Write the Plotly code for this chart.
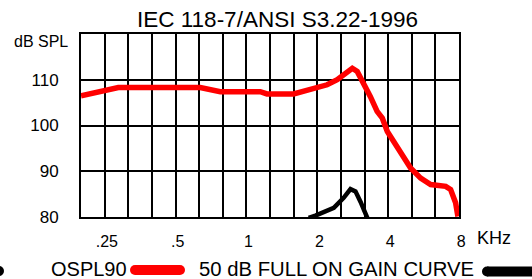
import math
import plotly.graph_objects as go

# ---------------- data ----------------
ospl_freq_khz = [0.2, 0.241, 0.288, 0.642, 0.708, 0.781, 1.155, 1.233, 1.60, 1.886,
                 2.22, 2.45, 2.70, 2.84, 2.98, 3.18, 3.39, 3.62, 3.81, 4.00,
                 4.48, 5.02, 5.54, 6.11, 7.08, 7.43, 7.80, 7.98]
ospl_db = [106.5, 107.4, 108.3, 108.3, 108.0, 107.4, 107.4, 106.9, 106.9, 107.8,
           108.9, 110.0, 111.8, 112.5, 111.8, 109.3, 106.3, 103.1, 101.6, 98.7,
           94.7, 90.7, 88.5, 87.1, 86.7, 86.0, 83.1, 80.1]

gain_freq_khz = [1.854, 1.98, 2.37, 2.61, 2.79, 2.93, 3.08, 3.29]
gain_db = [79.8, 80.3, 82.0, 84.2, 86.1, 85.6, 83.3, 79.8]

x_tick_vals = [0.25, 0.5, 1, 2, 4, 8]
x_tick_text = [".25", ".5", "1", "2", "4", "8"]
y_tick_vals = [80, 90, 100, 110, 120]
y_tick_text = ["80", "90", "100", "110", ""]

title_text = "IEC 118-7/ANSI S3.22-1996"
y_unit = "dB SPL"
x_unit = "KHz"
legend_names = ["OSPL90", "50 dB FULL ON GAIN CURVE"]

# 1/3-octave grid from 200 Hz
f_start = 0.2
grid_freqs = [f_start * 2 ** (k / 3) for k in range(17)]

FONT = "Liberation Sans, Arial, Helvetica, sans-serif"
W, H = 532, 279
ML, MR, MT, MB = 81, 73, 34, 62
PW, PH = W - ML - MR, H - MT - MB


def px(xp):
    return (xp - ML) / PW


def py(yp):
    return (H - MB - yp) / PH


fig = go.Figure()
fig.add_trace(go.Scatter(x=ospl_freq_khz, y=ospl_db, mode="lines",
                         line=dict(color="#ff0000", width=5.5),
                         name=legend_names[0], hoverinfo="skip"))
fig.add_trace(go.Scatter(x=gain_freq_khz, y=gain_db, mode="lines",
                         line=dict(color="#000000", width=4.5),
                         name=legend_names[1], hoverinfo="skip"))

fig.update_layout(
    width=W, height=H,
    margin=dict(l=ML, r=MR, t=MT, b=MB),
    paper_bgcolor="white", plot_bgcolor="white",
    showlegend=False,
    font=dict(family=FONT, color="black", size=16),
    title=dict(text=title_text, font=dict(family=FONT, size=22.5, color="black"),
               x=277.5 / W, xref="container", xanchor="center",
               y=1 - 19 / H, yref="container", yanchor="middle"),
)

fig.update_xaxes(
    type="log",
    range=[math.log10(grid_freqs[0]), math.log10(grid_freqs[-1])],
    tickmode="array", tickvals=x_tick_vals, ticktext=x_tick_text,
    showgrid=False, ticks="", ticklabelstandoff=9, ticklabelshift=3,
    tickfont=dict(size=16),
    minor=dict(tickmode="array", tickvals=grid_freqs[1:-1], showgrid=True,
               gridcolor="black", gridwidth=2, ticks=""),
    showline=True, linecolor="black", linewidth=2, mirror=True,
    zeroline=False,
)
fig.update_yaxes(
    range=[80, 120],
    tickmode="array", tickvals=y_tick_vals, ticktext=y_tick_text,
    showgrid=True, gridcolor="black", gridwidth=2, ticks="",
    ticklabelstandoff=17, tickfont=dict(size=17),
    showline=True, linecolor="black", linewidth=2, mirror=True,
    zeroline=False,
)

annotations = [
    dict(text=y_unit, x=px(70), y=py(41), xref="paper", yref="paper",
         xanchor="right", yanchor="middle", showarrow=False,
         font=dict(size=16)),
    dict(text=x_unit, x=px(494), y=py(238), xref="paper", yref="paper",
         xanchor="center", yanchor="middle", showarrow=False,
         font=dict(size=18)),
    dict(text=legend_names[0], x=px(49), y=py(268.5), xref="paper", yref="paper",
         xanchor="left", yanchor="middle", showarrow=False,
         font=dict(size=20)),
    dict(text=legend_names[1], x=px(197), y=py(268.5), xref="paper", yref="paper",
         xanchor="left", yanchor="middle", showarrow=False,
         font=dict(size=20.3)),
]
fig.update_layout(annotations=annotations)


def cap(cx, cy, r, color):
    return dict(type="circle", xref="paper", yref="paper",
                x0=px(cx - r), x1=px(cx + r), y0=py(cy + r), y1=py(cy - r),
                fillcolor=color, line=dict(width=0), layer="above")


def bar(xa, xb, y, w, color):
    return dict(type="line", xref="paper", yref="paper",
                x0=px(xa), x1=px(xb), y0=py(y), y1=py(y),
                line=dict(color=color, width=w), layer="above")


shapes = [
    cap(-1, 271, 5, "black"),
    bar(135, 180, 270, 10, "#ff0000"), cap(135, 270, 5, "#ff0000"), cap(180, 270, 5, "#ff0000"),
    bar(487, 545, 271.5, 10, "black"), cap(487, 271.5, 5, "black"),
]
fig.update_layout(shapes=shapes)

fig.write_html(
    "out.html",
    config={"displayModeBar": False},
    post_script="document.body.style.margin='0';document.body.style.overflow='hidden';",
)
